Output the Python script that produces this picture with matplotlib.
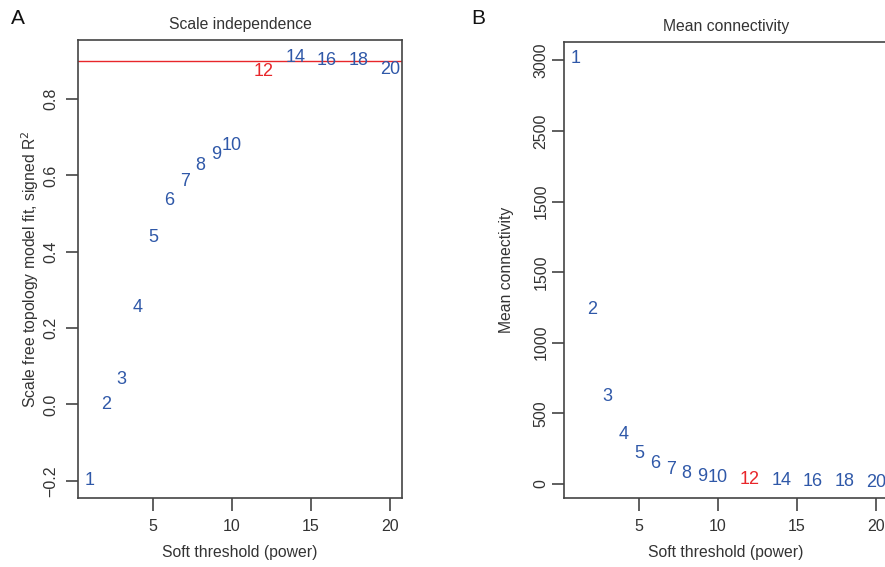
import numpy as np
import matplotlib
matplotlib.use('Agg')
import matplotlib.pyplot as plt

plt.rcParams['font.family'] = ['Liberation Sans', 'DejaVu Sans']

# soft-thresholding powers tested
powers = [1, 2, 3, 4, 5, 6, 7, 8, 9, 10, 12, 14, 16, 18, 20]
# scale free topology fit index (signed R^2)
sft_r2 = [-0.20, 0.00, 0.066, 0.253, 0.438, 0.535, 0.585, 0.626, 0.655, 0.679,
          0.872, 0.91, 0.90, 0.90, 0.879]
# mean connectivity
mean_k = [3010, 1237, 619, 349, 214, 141, 101, 73, 49, 42, 30, 23, 18, 15, 12]
chosen_power = 12
r2_cutoff = 0.9

x_ticks = [5, 10, 15, 20]
r2_ticks = [-0.2, 0.0, 0.2, 0.4, 0.6, 0.8]
r2_tick_labels = ['\u22120.2', '0.0', '0.2', '0.4', '0.6', '0.8']
k_ticks = [0, 500, 1000, 1500, 2000, 2500, 3000]
k_tick_labels = ['0', '500', '1000', '1500', '1500', '2500', '3000']

blue = '#2f58a8'
red = '#e8262a'
edge = '#444444'
txt = '#333333'


def style_axes(ax, ypad):
    for s in ax.spines.values():
        s.set_color(edge)
        s.set_linewidth(1.2)
    ax.tick_params(axis='both', length=9, width=1.2, color=edge,
                   labelcolor=txt, labelsize=11.5, pad=6)
    ax.tick_params(axis='y', labelrotation=90, pad=ypad)
    for lab in ax.get_yticklabels():
        lab.set_va('center')


def label_points(ax, xs, ys):
    for p, v in zip(xs, ys):
        c = red if p == chosen_power else blue
        ax.text(p, v, str(p), color=c, fontsize=13, ha='center', va='center')


fig = plt.figure(figsize=(8.85, 5.67), dpi=100)
ax1 = fig.add_axes([78 / 885, 69 / 567, 324 / 885, 458 / 567])
ax2 = fig.add_axes([564 / 885, 69 / 567, 324 / 885, 456 / 567])

# panel A
ax1.set_xlim(0.24, 20.76)
ax1.set_ylim(-0.245, 0.955)
label_points(ax1, powers, sft_r2)
ax1.axhline(r2_cutoff, color=red, linewidth=1.0)
ax1.set_xticks(x_ticks)
ax1.set_yticks(r2_ticks)
ax1.set_yticklabels(r2_tick_labels)
style_axes(ax1, 5)
ax1.set_xlabel('Soft threshold (power)', fontsize=11.3, color=txt, labelpad=8)
ax1.set_ylabel('Scale free topology model fit, signed R$^2$', fontsize=11.3,
               color=txt, labelpad=2)
ax1.set_title('Scale independence', fontsize=11.3, color=txt, pad=8)

# panel B
ax2.set_xlim(0.24, 20.76)
ax2.set_ylim(-100, 3130)
label_points(ax2, powers, mean_k)
ax2.set_xticks(x_ticks)
ax2.set_yticks(k_ticks)
ax2.set_yticklabels(k_tick_labels)
style_axes(ax2, 2)
ax2.set_xlabel('Soft threshold (power)', fontsize=11.3, color=txt, labelpad=8)
ax2.set_ylabel('Mean connectivity', fontsize=11.3, color=txt, labelpad=14)
ax2.set_title('Mean connectivity', fontsize=11.3, color=txt, pad=8)

fig.text(18 / 885, 1 - 18 / 567, 'A', fontsize=15, color='#111111', ha='center', va='center')
fig.text(478 / 885, 1 - 18 / 567, 'B', fontsize=15, color='#111111', ha='center', va='center')

fig.savefig('out.png', dpi=100)
